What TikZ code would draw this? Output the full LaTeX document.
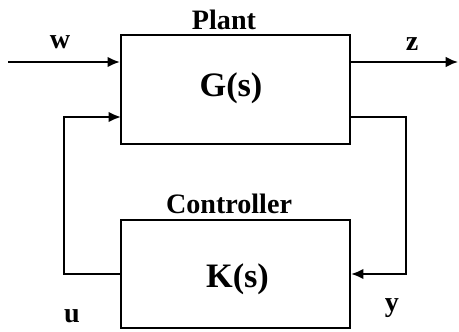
\documentclass[tikz,border=0pt]{standalone}
\usepackage{fontspec}
\setmainfont{Liberation Serif}
\usetikzlibrary{positioning,arrows.meta}

\tikzset{
  block/.style={rectangle, draw, line width=1.2pt, minimum width=4.58cm, minimum height=2.17cm},
  sig/.style={line width=1.2pt, -{Latex[length=7pt,width=6pt]}},
  lbl/.style={font=\fontsize{16}{19}\selectfont\bfseries},
  tf/.style={font=\fontsize{19.5}{23}\selectfont\bfseries}
}

\begin{document}
\begin{tikzpicture}[x=0.02cm, y=-0.02cm]
\useasboundingbox (0,0) rectangle (459,331);
\node (plant) [block] at (235.5,89.5) {};
\node (gs) [tf] at (231,88) {G(s)};
\node (ctrl) [block] at (235.5,274) {};
\node (ks) [tf] at (237.5,279) {K(s)};
\node (plantlbl) [lbl, anchor=base] at (224,30) {Plant};
\node (ctrllbl) [lbl, anchor=base] at (229,213) {Controller};

\coordinate (wstart) at (8,62);
\coordinate (uin) at (121,117);
\coordinate (yout) at (350,117);
\node (wlbl) [lbl] at (60,42) {w};
\node (zlbl) [lbl] at (412,44) {z};
\node (ulbl) [lbl] at (72,316) {u};
\node (ylbl) [lbl] at (392,308) {y};

\draw[sig] (wstart) -- (wstart -| plant.west);
\draw[sig] (plant.east |- wstart) -- ++(107,0);
\draw[sig] (ctrl.west) -- ++(-56,0) |- (uin);
\draw[sig] (yout) -- ++(56,0) |- (ctrl.east);
\end{tikzpicture}
\end{document}
